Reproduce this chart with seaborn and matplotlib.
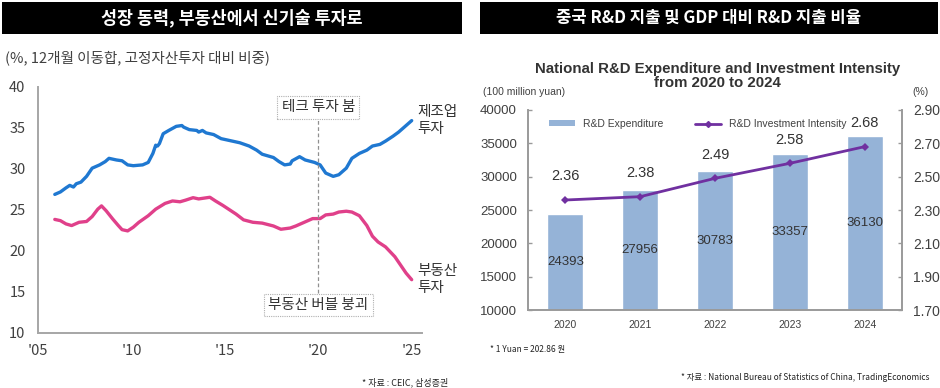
import numpy as np
import pandas as pd
import seaborn as sns
from matplotlib import pyplot as plt
from matplotlib.patches import Rectangle, Patch
from matplotlib.lines import Line2D

# left panel: share of fixed asset investment (%, 12m rolling sum)
manuf_t = [2005.9, 2006.2, 2006.5, 2006.7, 2006.9, 2007.05, 2007.3, 2007.6, 2007.9, 2008.3,
           2008.6, 2008.8, 2009.2, 2009.5, 2009.8, 2010.1, 2010.6, 2010.9, 2011.15, 2011.3,
           2011.4, 2011.5, 2011.7, 2012.0, 2012.4, 2012.7, 2012.8, 2013.1, 2013.5, 2013.6,
           2013.8, 2014.0, 2014.4, 2014.8, 2015.2, 2015.8, 2016.3, 2016.7, 2017.0, 2017.6,
           2017.9, 2018.2, 2018.5, 2018.6, 2019.0, 2019.3, 2019.8, 2020.1, 2020.4, 2020.8,
           2021.1, 2021.5, 2021.8, 2022.2, 2022.6, 2022.9, 2023.3, 2023.6, 2024.0, 2024.3,
           2024.7, 2025.0]
manuf = [26.9, 27.2, 27.7, 28.0, 27.8, 28.2, 28.4, 29.1, 30.1, 30.5,
         30.9, 31.3, 31.1, 31.0, 30.5, 30.4, 30.5, 30.8, 31.9, 32.9,
         32.8, 33.1, 34.3, 34.7, 35.2, 35.3, 35.1, 34.8, 34.7, 34.5,
         34.7, 34.4, 34.2, 33.7, 33.5, 33.2, 32.8, 32.3, 31.8, 31.4,
         30.9, 30.5, 30.6, 31.0, 31.5, 31.1, 30.8, 30.5, 29.5, 29.1,
         29.3, 30.1, 31.3, 31.9, 32.3, 32.8, 33.0, 33.4, 34.0, 34.5,
         35.3, 35.9]

estate_t = [2005.9, 2006.2, 2006.5, 2006.8, 2007.2, 2007.6, 2007.9, 2008.2, 2008.4, 2008.65,
            2009.0, 2009.3, 2009.5, 2009.8, 2010.1, 2010.4, 2010.9, 2011.3, 2011.8, 2012.2,
            2012.6, 2012.9, 2013.3, 2013.6, 2014.2, 2014.5, 2014.9, 2015.2, 2015.6, 2016.0,
            2016.5, 2017.0, 2017.6, 2018.0, 2018.5, 2018.8, 2019.2, 2019.7, 2020.1, 2020.4,
            2020.8, 2021.1, 2021.5, 2021.8, 2022.2, 2022.6, 2022.9, 2023.2, 2023.6, 2024.1,
            2024.4, 2024.7, 2025.0]
estate = [23.85, 23.7, 23.3, 23.1, 23.5, 23.6, 24.2, 25.1, 25.5, 24.9,
          23.9, 23.1, 22.6, 22.45, 22.9, 23.5, 24.3, 25.1, 25.8, 26.1,
          26.0, 26.2, 26.5, 26.35, 26.55, 26.1, 25.55, 25.1, 24.5, 23.8,
          23.5, 23.4, 23.05, 22.65, 22.8, 23.05, 23.45, 23.95, 23.95, 24.4,
          24.5, 24.75, 24.85, 24.75, 24.3, 23.1, 21.8, 21.1, 20.5, 19.3,
          18.3, 17.3, 16.5]

left_yticks = [10, 15, 20, 25, 30, 35, 40]
left_xticks = [2005, 2010, 2015, 2020, 2025]
left_xlabels = ["'05", "'10", "'15", "'20", "'25"]

# right panel: China R&D
years = ["2020", "2021", "2022", "2023", "2024"]
rd_spend = [24393, 27956, 30783, 33357, 36130]
rd_ratio = [2.36, 2.38, 2.49, 2.58, 2.68]

sns.set_style("white")
plt.rcParams['font.family'] = ['Noto Sans CJK KR', 'DejaVu Sans']
KR = ['Noto Sans CJK KR', 'DejaVu Sans']
EN = ['Liberation Sans', 'DejaVu Sans']

fig = plt.figure(figsize=(9.4, 3.88), dpi=100)

# black title bars
fig.patches.append(Rectangle((0.002, 0.912), 0.489, 0.083, transform=fig.transFigure,
                             facecolor='black', edgecolor='none'))
fig.patches.append(Rectangle((0.511, 0.912), 0.487, 0.083, transform=fig.transFigure,
                             facecolor='black', edgecolor='none'))
fig.text(0.247, 0.953, '성장 동력, 부동산에서 신기술 투자로', color='white', fontsize=12.5,
         ha='center', va='center', family=KR, weight='bold')
fig.text(0.754, 0.953, '중국 R&D 지출 및 GDP 대비 R&D 지출 비율', color='white', fontsize=12,
         ha='center', va='center', family=KR, weight='bold')

# ---- left chart
ax = fig.add_axes([0.0404, 0.1418, 0.4085, 0.634])
gray = '#a6a6a6'
txt = '#404040'
sns.lineplot(x=manuf_t, y=manuf, ax=ax, color='#1f78d1', lw=2.4)
sns.lineplot(x=estate_t, y=estate, ax=ax, color='#e0408a', lw=2.4)
ax.set_xlim(2005, 2025.55)
ax.set_ylim(10, 40)
ax.set_yticks(left_yticks)
ax.set_xticks(left_xticks)
ax.set_xticklabels(left_xlabels)
for s in ['top', 'right']:
    ax.spines[s].set_visible(False)
for s in ['left', 'bottom']:
    ax.spines[s].set_color(gray)
    ax.spines[s].set_linewidth(1.4)
ax.tick_params(axis='both', direction='out', length=4, width=1.2, color=gray,
               labelsize=10.5, labelcolor=txt)
ax.tick_params(axis='y', pad=5)
ax.tick_params(axis='x', pad=4)

ax.plot([2020, 2020], [14.9, 36.1], ls=(0, (3, 2)), color='#909090', lw=0.9)
box = dict(boxstyle='square,pad=0.3', fc='white', ec='#b0b0b0', ls=(0, (1, 1)), lw=0.8)
ax.text(2020, 37.5, '테크 투자 붐', ha='center', va='center', fontsize=10.5, color='#333333', bbox=box)
ax.text(2020, 13.4, '부동산 버블 붕괴', ha='center', va='center', fontsize=10.5, color='#333333', bbox=box)
ax.text(manuf_t[-1] + 0.3, manuf[-1], '제조업\n투자', ha='left', va='center', fontsize=10.5,
        color='#333333', linespacing=1.25)
ax.text(estate_t[-1] + 0.3, estate[-1], '부동산\n투자', ha='left', va='center', fontsize=10.5,
        color='#333333', linespacing=1.25)

fig.text(0.005, 0.851, '(%, 12개월 이동합, 고정자산투자 대비 비중)', fontsize=10.5, color=txt,
         ha='left', va='center', family=KR)
fig.text(0.4766, 0.0155, '* 자료 : CEIC, 삼성증권', fontsize=6.5, color='#222222',
         ha='right', va='center', family=KR)

# ---- right chart
ax1 = fig.add_axes([0.5617, 0.201, 0.3979, 0.5155])
df = pd.DataFrame({'year': years, 'spend': rd_spend, 'ratio': rd_ratio})
sns.barplot(data=df, x='year', y='spend', ax=ax1, color='#95b3d7', saturation=1, width=0.48)
ax1.set_ylim(10000, 40000)
ax1.set_xlim(-0.5, 4.5)
ax1.set_yticks(range(10000, 40001, 5000))
ax1.set_xlabel('')
ax1.set_ylabel('')
for i, v in enumerate(rd_spend):
    ax1.text(i, (10000 + v) / 2, str(v), ha='center', va='center', fontsize=9.5,
             color='#333333', family=EN)

ax2 = ax1.twinx()
sns.lineplot(x=np.arange(len(years)), y=rd_ratio, ax=ax2, color='#7030a0', lw=2,
             marker='D', markersize=4, markeredgewidth=0)
ax2.set_ylim(1.70, 2.90)
ax2.set_yticks(np.arange(1.70, 2.91, 0.20))
ax2.set_yticklabels(['%.2f' % t for t in np.arange(1.70, 2.91, 0.20)])
for i, v in enumerate(rd_ratio):
    ax2.annotate('%.2f' % v, (i, v), xytext=(0, 12), textcoords='offset points',
                 ha='center', va='bottom', fontsize=10.5, color='#333333', family=EN)

for a in (ax1, ax2):
    a.spines['top'].set_visible(False)
    for s in ['left', 'right', 'bottom']:
        a.spines[s].set_color('#9a9a9a')
        a.spines[s].set_linewidth(1.2)
    a.tick_params(direction='in', length=3, width=1, color='#9a9a9a', labelcolor=txt)
    for lab in a.get_yticklabels() + a.get_xticklabels():
        lab.set_family(EN)
ax1.tick_params(axis='y', labelsize=9.5, pad=8)
ax2.tick_params(axis='y', labelsize=10, pad=8)
ax1.tick_params(axis='x', labelsize=7.5, pad=7, length=0)

handles = [Patch(facecolor='#95b3d7', edgecolor='none'),
           Line2D([], [], color='#7030a0', lw=2, marker='D', markersize=3)]
ax1.legend(handles, ['R&D Expenditure', 'R&D Investment Intensity'], loc='center left',
           bbox_to_anchor=(0.03, 0.93), ncol=2, frameon=False, handlelength=2.5,
           handleheight=0.5, columnspacing=3, prop={'family': EN, 'size': 7.5},
           labelcolor=txt)

fig.text(0.763, 0.823, 'National R&D Expenditure and Investment Intensity',
         ha='center', va='center', fontsize=10.8, weight='bold', color='#333333', family=EN)
fig.text(0.763, 0.785, 'from 2020 to 2024',
         ha='center', va='center', fontsize=10.8, weight='bold', color='#333333', family=EN)
fig.text(0.514, 0.762, '(100 million yuan)', fontsize=7.5, color=txt, family=EN, ha='left', va='center')
fig.text(0.988, 0.762, '(%)', fontsize=7.5, color=txt, family=EN, ha='right', va='center')
fig.text(0.521, 0.098, '* 1 Yuan = 202.86 원', fontsize=6, color='#222222', family=KR,
         ha='left', va='center')
fig.text(0.989, 0.026, '* 자료 : National Bureau of Statistics of China, TradingEconomics',
         fontsize=6, color='#222222', family=KR, ha='right', va='center')

fig.savefig('out.png', dpi=100)
